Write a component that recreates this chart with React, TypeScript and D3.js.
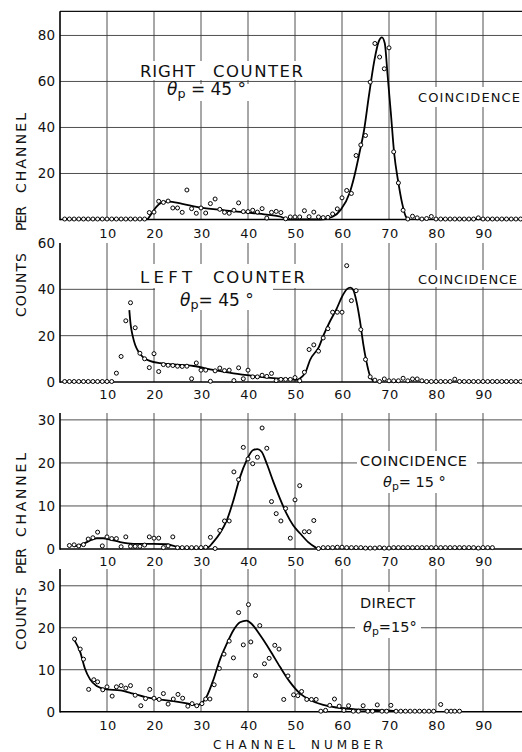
import React from "react";
import * as d3 from "d3";

// ---------- data ----------
const CHANNEL_TICKS = [10, 20, 30, 40, 50, 60, 70, 80, 90];

const RIGHT_TICKS = [20, 40, 60, 80];
const LEFT_TICKS = [0, 20, 40, 60];
const LOW_TICKS = [0, 10, 20, 30];

// Right counter, theta_p = 45°, coincidence  [channel, counts]
const rightPoints: [number, number][] = [
  [1, 0], [2, 0], [3, 0], [4, 0], [5, 0], [6, 0], [7, 0], [8, 0], [9, 0], [10, 0],
  [11, 0], [12, 0], [13, 0], [14, 0], [15, 0], [16, 0], [17, 0], [18, 0],
  [19, 2.8], [20, 3], [21, 7.7], [22, 7.2], [23, 7.8], [24, 4.8], [25, 4.8], [26, 2.9],
  [27, 12.6], [28, 4.5], [29, 2.5], [30, 4.8], [31, 2.6], [32, 6.7], [33, 8.7], [34, 4.2],
  [35, 2.9], [36, 2.5], [37, 3.8], [38, 7], [39, 3.2], [40, 3.2], [41, 3.8], [42, 3],
  [43, 4.5], [44, 0.4], [45, 2.9], [46, 3.3], [47, 2.8], [48, 0.1], [49, 0.9], [50, 0.9],
  [51, 0.9], [52, 3.6], [53, 1], [54, 3], [55, 0.9], [56, 0.6], [57, 0.7], [58, 2.2],
  [59, 4.4], [60, 9.2], [61, 12.4], [62, 11.1], [63, 27.6], [64, 32.2], [65, 36.3],
  [66, 59.5], [67, 76.3], [68, 70.4], [69, 65.3], [70, 74.4], [71, 29.2], [72, 15.7],
  [73, 3.8], [74, 0], [75, 1.2], [76, 0.5], [77, 0], [78, 0.2], [79, 1.1], [80, 0],
  [81, 0], [82, 0], [83, 0], [84, 0], [85, 0], [86, 0], [87, 0], [88, 0], [89, 0.5],
  [90, 0], [91, 0], [92, 0], [93, 0], [94, 0], [95, 0], [96, 0], [97, 0], [98, 0],
];
const rightCurve: [number, number][] = [
  [18.6, 0], [19.5, 2.6], [20.5, 5.5], [21.5, 7.2], [23, 7.8], [26, 6.8], [30, 5.2],
  [35, 4], [40, 3.0], [44, 2.1], [47, 1.2], [48.5, 0], [55.5, 0], [58, 1.2], [59.8, 4.4],
  [61.6, 11.4], [62.6, 18.6], [63.7, 28.8], [64.7, 38.9], [65.7, 53.4], [66.9, 69.3],
  [67.8, 77.3], [68.5, 79.2], [69.1, 76.6], [69.7, 62.8], [70.4, 46.2], [71.1, 28.8],
  [71.9, 17.2], [72.8, 7], [73.6, 1.2], [74.3, 0],
];

// Left counter, theta_p = 45°, coincidence
const leftPoints: [number, number][] = [
  [1, 0], [2, 0], [3, 0], [4, 0], [5, 0], [6, 0], [7, 0], [8, 0], [9, 0], [10, 0], [11, 0],
  [12, 3.6], [13, 10.8], [14, 26.2], [15, 34], [16, 23.2], [17, 12.2], [18, 9.8], [19, 6],
  [20, 12], [21, 4.3], [22, 7.3], [23, 7], [24, 6.9], [25, 6.6], [26, 6.5], [27, 6.6],
  [28, 1.2], [29, 8], [30, 4.9], [31, 4.9], [32, 0.1], [33, 4.6], [34, 5.8], [35, 4.7],
  [36, 4.9], [37, 0.4], [38, 5.9], [39, 1.2], [40, 4.9], [41, 2], [42, 2], [43, 2.7],
  [44, 2.2], [45, 3.5], [46, 0.4], [47, 0.9], [48, 0.9], [49, 0.9], [50, 1.7], [51, 0.3],
  [52, 4], [53, 13.8], [54, 15.8], [55, 13.1], [56, 18.8], [57, 22.8], [58, 29.9],
  [59, 29.9], [60, 29.9], [61, 50], [62, 34.9], [63, 39.2], [64, 22.4], [65, 9.5], [66, 2],
  [67, 0.6], [68, 0], [69, 1.1], [70, 0.3], [71, 0.3], [72, 0.3], [73, 1.4], [74, 0.3],
  [75, 1.1], [76, 1.1], [77, 0.3], [78, 0], [79, 0], [80, 0], [81, 0], [82, 0], [83, 0],
  [84, 1], [85, 0], [86, 0], [87, 0], [88, 0], [89, 0], [90, 0], [91, 0], [92, 0], [93, 0],
  [94, 0], [95, 0], [96, 0], [97, 0], [98, 0],
];
const leftCurve: [number, number][] = [
  [14.75, 31], [15, 25.3], [15.5, 19.6], [16, 16], [16.7, 13.1], [17.7, 10.6], [19.1, 9.1],
  [21.3, 8.1], [24.1, 7.6], [28.4, 6.9], [32.6, 5.2], [36.9, 3.7], [41.1, 2.6], [45.4, 1.7],
  [48.9, 1.2], [50.4, 0.9], [51.5, 2.3], [52.3, 4.5], [53.2, 9.5], [55.1, 15.2], [56.1, 20.3],
  [57.4, 26], [58.9, 31.8], [60, 36.8], [61, 40], [61.8, 40.7], [62.4, 39.7], [63.1, 34.6],
  [63.8, 26.7], [64.5, 16.7], [65.2, 8.8], [65.9, 3], [66.7, 0.3],
];

// Coincidence, theta_p = 15°
const coinc15Points: [number, number][] = [
  [2, 0.7], [3, 0.85], [4, 0.6], [5, 0.9], [6, 2.2], [7, 2.5], [8, 3.8], [9, 0.6], [10, 2.7],
  [11, 2.3], [12, 2.3], [13, 0.4], [14, 2.7], [15, 0.5], [16, 0.5], [17, 0.5], [18, 0.8],
  [19, 2.7], [20, 2.4], [21, 2.4], [22, 0.2], [23, 0.6], [24, 2.7], [25, 0.2], [26, 0.2],
  [27, 0.2], [28, 0.2], [29, 0.2], [30, 0.2], [31, 0.3], [32, 2.6], [33, 0], [34, 4.2],
  [35, 6.4], [36, 6.4], [37, 17.8], [38, 16], [39, 23.5], [40, 20.8], [41, 19.7], [42, 21.2],
  [43, 28], [44, 23.3], [45, 10.9], [46, 8.1], [47, 6.4], [48, 9.3], [49, 2.4], [50, 11.3],
  [51, 14.6], [52, 3.9], [53, 3.9], [54, 6.5], [55, 0], [56, 0.2], [57, 0.2], [58, 0.2],
  [59, 0.3], [60, 0.3], [61, 0.2], [62, 0.2], [63, 0.2], [64, 0.2], [65, 0.1], [66, 0.1],
  [67, 0.1], [68, 0.2], [69, 0.1], [70, 0.1], [71, 0.2], [72, 0.2], [73, 0.2], [74, 0.2],
  [75, 0.2], [76, 0.2], [77, 0.2], [78, 0.2], [79, 0.2], [80, 0.2], [81, 0.2], [82, 0.2],
  [83, 0.2], [84, 0.2], [85, 0.2], [86, 0.2], [87, 0.2], [88, 0.2], [89, 0.1], [90, 0.2],
  [91, 0.2], [92, 0.2],
];
const coinc15Curve: [number, number][] = [
  [3, 0.6], [5, 1.2], [6.4, 2], [7.8, 2.5], [9.2, 2.5], [10.6, 2.2], [12.8, 1.6], [15.6, 1.2],
  [19.9, 1.2], [22.7, 1.1], [24.5, 0.6], [26.2, 0.3], [31.2, 0.2], [32.6, 1.6], [34, 3.6],
  [35.5, 6.7], [36.9, 11.3], [38.3, 16.7], [39.7, 20.6], [41.1, 23], [42, 23.2], [42.9, 22.6],
  [44, 19.8], [45.4, 15.6], [46.8, 11.7], [48.2, 8.2], [49.6, 5.5], [51.1, 3.6], [52.8, 1.6],
  [54.6, 0.2],
];

// Direct, theta_p = 15°
const direct15Points: [number, number][] = [
  [3.1, 17.2], [4.3, 14.8], [5, 12.4], [6.1, 5.2], [7.2, 7.5], [8, 7], [9.1, 5.1], [10, 5.8],
  [11.1, 3.6], [12, 5.8], [13, 6.1], [14, 5.5], [15, 6.1], [16, 3.8], [17.2, 1.3], [18.2, 3],
  [19.1, 5.2], [20, 3.1], [21.1, 2.8], [22, 4.2], [23, 1.7], [24.1, 2.9], [25.1, 4],
  [26.1, 3.1], [27.2, 1.2], [28.1, 1.8], [29.1, 1.3], [30.2, 1.8], [31, 2.9], [31.9, 2.9],
  [32.8, 6.3], [33.9, 10.2], [34.9, 13.6], [36, 16.7], [36.9, 12.7], [38, 23.5], [39, 15.8],
  [40.1, 25.4], [40.6, 16.5], [41.6, 8.5], [42.5, 20.4], [43.5, 11.3], [44.5, 12.6],
  [45.7, 15.7], [46.6, 14.8], [47.6, 2.8], [48.5, 8.4], [49.7, 3.9], [50.6, 3.7], [51.4, 4.7],
  [52.5, 2.8], [53.5, 2.8], [54.5, 2.8], [55.5, 0], [56.5, 0.2], [57.4, 1.4], [58.4, 2.9],
  [59.4, 1.2], [60.4, 0.2], [61.4, 1.3], [62.4, 0], [63.5, 0], [64.5, 1.3], [65.5, 0],
  [66.5, 0], [67.5, 1.5], [68.5, 0], [69.5, 0], [70.4, 1.4], [71.5, 0], [72.5, 0], [73.5, 0],
  [74.5, 0], [75.5, 0], [76.5, 0], [77.5, 0], [78.5, 0], [79.5, 0], [81, 1.6], [82.3, 0],
  [83.2, 0], [84, 0], [85, 0],
];
const direct15Curve: [number, number][] = [
  [3.1, 17], [4.3, 14.2], [5.3, 10.3], [6.4, 7.7], [7.8, 6.1], [9.9, 5.3], [12.8, 5.1],
  [15.6, 4.3], [18.4, 3.4], [21.3, 2.9], [24.1, 2.5], [27, 2], [29.1, 1.6], [30.1, 2],
  [31.2, 3.6], [32.6, 7.5], [34, 12.3], [35.5, 16.2], [36.9, 19.4], [38.3, 21.3], [39.7, 21.7],
  [40.8, 20.9], [42.6, 18.2], [44.7, 14.6], [46.8, 10.7], [48.9, 7.1], [51.1, 4.3],
  [53.2, 2.8], [56, 1.6], [58.9, 1], [62.4, 0.6], [66.7, 0.4], [70.9, 0.2], [73, 0],
];

// ---------- layout ----------
const W = 522;
const H = 752;
const LEFT = 60;
const RIGHT = 522;
const FONT = "'DejaVu Sans', 'Liberation Sans', sans-serif";

const x = d3.scaleLinear().domain([0, 100]).range([LEFT, 530]);

type Panel = {
  points: [number, number][];
  curve: [number, number][];
  y: d3.ScaleLinear<number, number>;
  topPx: number;
  ticks: number[];
  grid: number[];
  topBorder: boolean;
  xLabelY: number;
};

const panels: Panel[] = [
  {
    points: rightPoints, curve: rightCurve,
    y: d3.scaleLinear().domain([0, 90.5]).range([219.5, 11.3]),
    topPx: 11.3, ticks: RIGHT_TICKS, grid: [20, 40, 60, 80], topBorder: true, xLabelY: 233,
  },
  {
    points: leftPoints, curve: leftCurve,
    y: d3.scaleLinear().domain([0, 60]).range([382, 243]),
    topPx: 243, ticks: LEFT_TICKS, grid: [20, 40], topBorder: false, xLabelY: 394,
  },
  {
    points: coinc15Points, curve: coinc15Curve,
    y: d3.scaleLinear().domain([0, 31.6]).range([549, 413]),
    topPx: 413, ticks: LOW_TICKS, grid: [10, 20, 30], topBorder: false, xLabelY: 561.5,
  },
  {
    points: direct15Points, curve: direct15Curve,
    y: d3.scaleLinear().domain([0, 34]).range([711.7, 569]),
    topPx: 569, ticks: LOW_TICKS, grid: [10, 20, 30], topBorder: false, xLabelY: 725,
  },
];

const GRID = "#3c3c3c";

function PanelView({ p }: { p: Panel }) {
  const base = p.y(0);
  const line = d3
    .line<[number, number]>()
    .x((d) => x(d[0]))
    .y((d) => p.y(d[1]))
    .curve(d3.curveMonotoneX);
  return (
    <g>
      {CHANNEL_TICKS.map((c) => (
        <line key={"v" + c} x1={x(c)} x2={x(c)} y1={p.topPx} y2={base} stroke={GRID} strokeWidth={0.9} />
      ))}
      {p.grid.map((v) => (
        <line key={"h" + v} x1={LEFT} x2={RIGHT} y1={p.y(v)} y2={p.y(v)} stroke={GRID} strokeWidth={0.9} />
      ))}
      {p.topBorder && (
        <line x1={LEFT} x2={RIGHT} y1={p.topPx} y2={p.topPx} stroke="#111" strokeWidth={1.3} />
      )}
      <line x1={LEFT} x2={LEFT} y1={p.topPx} y2={base + 0.8} stroke="#000" strokeWidth={1.6} />
      <line x1={LEFT} x2={RIGHT} y1={base} y2={base} stroke="#000" strokeWidth={1.4} />
      {p.ticks.map((v) => (
        <text key={"t" + v} x={55} y={p.y(v)} textAnchor="end" dominantBaseline="central"
          fontFamily={FONT} fontSize={13.5} fill="#111">{v}</text>
      ))}
      {CHANNEL_TICKS.map((c) => (
        <text key={"xl" + c} x={x(c) + 1} y={p.xLabelY} textAnchor="middle" dominantBaseline="central"
          fontFamily={FONT} fontSize={13} letterSpacing={0.5} fill="#111">{c}</text>
      ))}
      <path d={line(p.curve) || ""} fill="none" stroke="#000" strokeWidth={1.8} />
      {p.points.map((d, i) => (
        <circle key={"p" + i} cx={x(d[0])} cy={p.y(d[1]) - 0.5} r={2} fill="#fff" stroke="#000" strokeWidth={1} />
      ))}
    </g>
  );
}

function Theta({ x0, y0, size, text }: { x0: number; y0: number; size: number; text: string }) {
  return (
    <text x={x0} y={y0} dominantBaseline="central" fontFamily={FONT} fontSize={size} fill="#111">
      <tspan fontStyle="italic">θ</tspan>
      <tspan fontSize={size * 0.75} dy={size * 0.25}>p</tspan>
      <tspan dy={-size * 0.25}>{text}</tspan>
    </text>
  );
}

function Label({ x0, y0, len, size, text }: { x0: number; y0: number; len: number; size: number; text: string }) {
  return (
    <text x={x0} y={y0} dominantBaseline="central" fontFamily={FONT} fontSize={size}
      textLength={len} lengthAdjust="spacing" fill="#111">{text}</text>
  );
}

function YTitle({ cx, cy, len, text }: { cx: number; cy: number; len: number; text: string }) {
  return (
    <text x={0} y={0} transform={`translate(${cx},${cy}) rotate(-90)`} textAnchor="middle"
      dominantBaseline="central" fontFamily={FONT} fontSize={14} textLength={len}
      lengthAdjust="spacing" fill="#111">{text}</text>
  );
}

export default function App() {
  return (
    <svg width={W} height={H} style={{ position: "absolute", left: 0, top: 0, background: "#fff" }}>
      <rect x={0} y={0} width={W} height={H} fill="#fff" />
      {panels.map((p, i) => (
        <PanelView key={i} p={p} />
      ))}

      {/* panel 1 annotations */}
      <rect x={136} y={61} width={172} height={19} fill="#fff" />
      <rect x={160} y={84} width={95} height={17} fill="#fff" />
      <Label x0={140} y0={71} len={55} size={16.5} text="RIGHT" />
      <Label x0={213} y0={71} len={90} size={16.5} text="COUNTER" />
      <Theta x0={167} y0={89} size={17} text=" = 45 °" />
      <rect x={414} y={87} width={108} height={20} fill="#fff" />
      <Label x0={418} y0={97} len={102} size={13} text="COINCIDENCE" />

      {/* panel 2 annotations */}
      <rect x={136} y={264} width={172} height={24} fill="#fff" />
      <rect x={155} y={288} width={118} height={22} fill="#fff" />
      <Label x0={140} y0={277} len={52} size={16.5} text="LEFT" />
      <Label x0={213} y0={277} len={92} size={16.5} text="COUNTER" />
      <Theta x0={180} y0={300} size={17} text="= 45 °" />
      <rect x={414} y={270} width={108} height={17} fill="#fff" />
      <Label x0={418} y0={279} len={99} size={13} text="COINCIDENCE" />

      {/* panel 3 annotations */}
      <rect x={357} y={451} width={120} height={42} fill="#fff" />
      <Label x0={360} y0={461} len={107} size={14.5} text="COINCIDENCE" />
      <Theta x0={383} y0={482} size={14.5} text="= 15 °" />

      {/* panel 4 annotations */}
      <rect x={355} y={592} width={66} height={46} fill="#fff" />
      <Label x0={360} y0={603} len={55} size={14.5} text="DIRECT" />
      <Theta x0={363} y0={627} size={14.5} text="=15°" />

      {/* axis titles */}
      <YTitle cx={20.5} cy={153} len={80} text="CHANNEL" />
      <YTitle cx={20.5} cy={218.5} len={25} text="PER" />
      <YTitle cx={20.5} cy={285} len={64} text="COUNTS" />
      <YTitle cx={20.5} cy={495} len={84} text="CHANNEL" />
      <YTitle cx={20.5} cy={561} len={26} text="PER" />
      <YTitle cx={20.5} cy={618.5} len={63} text="COUNTS" />

      <Label x0={213} y0={745} len={82} size={12} text="CHANNEL" />
      <Label x0={311} y0={745} len={72} size={12} text="NUMBER" />
    </svg>
  );
}
